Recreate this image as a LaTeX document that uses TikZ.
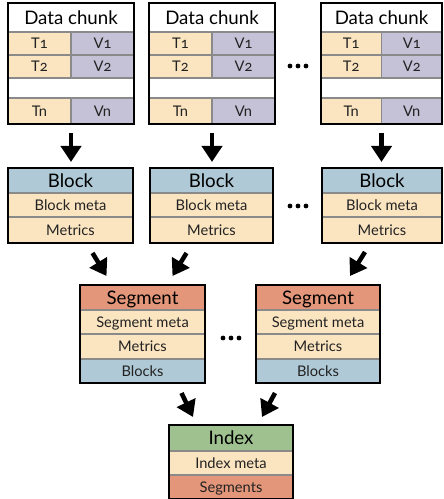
\documentclass[tikz,border=0pt]{standalone}
\usepackage{fontspec}
\setmainfont{Lato}[Numbers=OldStyle]
\usetikzlibrary{arrows.meta,fit,calc}
\definecolor{beige}{HTML}{FBE5C1}
\definecolor{lilac}{HTML}{C5C1D6}
\definecolor{paleblue}{HTML}{AFCAD6}
\definecolor{salmon}{HTML}{E39679}
\definecolor{sage}{HTML}{9EC18F}
\definecolor{sepgray}{HTML}{8A8A8A}
\definecolor{inktext}{HTML}{222222}
\tikzset{
  rowrect/.style={draw=sepgray, line width=0.8pt},
  headtext/.style={font=\fontsize{14}{15}\selectfont, text=black, inner sep=0pt, text height=10pt, text depth=0pt},
  subtext/.style={font=\fontsize{11}{12}\selectfont, text=inktext, inner sep=0pt, text height=7.9pt, text depth=0pt},
  boxframe/.style={draw=black, line width=1.5pt, inner sep=0pt, fill=none},
  bigarrow/.style={line width=3.4pt, -{Triangle[length=12pt,width=15pt]}},
  dot/.style={fill=black, circle, inner sep=0pt, minimum size=3.6pt}
}
% row: x1 y1 x2 y2 colour text style
\newcommand\mkrow[7]{%
  \path[rowrect, fill=#5] (#1,#2) rectangle (#3,#4);
  \node[#7] at ($(#1,#2)!0.5!(#3,#4)$) {#6};}
% data chunk: name x1 x2
\newcommand\mkchunk[3]{%
  \pgfmathsetmacro\xm{(#2+#3)/2}%
  \mkrow{#2}{3}{#3}{32}{white}{Data chunk}{headtext}
  \mkrow{#2}{32}{\xm}{55}{beige}{T1}{subtext}
  \mkrow{\xm}{32}{#3}{55}{lilac}{V1}{subtext}
  \mkrow{#2}{55}{\xm}{78}{beige}{T2}{subtext}
  \mkrow{\xm}{55}{#3}{78}{lilac}{V2}{subtext}
  \mkrow{#2}{78}{#3}{98}{white}{}{subtext}
  \mkrow{#2}{98}{\xm}{124}{beige}{Tn}{subtext}
  \mkrow{\xm}{98}{#3}{124}{lilac}{Vn}{subtext}
  \node[boxframe, fit={(#2,3) (#3,124)}] (#1) {};}
% block: name x1 x2
\newcommand\mkblock[3]{%
  \mkrow{#2}{168}{#3}{193}{paleblue}{Block}{headtext}
  \mkrow{#2}{193}{#3}{217}{beige}{Block meta}{subtext}
  \mkrow{#2}{217}{#3}{243}{beige}{Metrics}{subtext}
  \node[boxframe, fit={(#2,168) (#3,243)}] (#1) {};}
% segment: name x1 x2
\newcommand\mkseg[3]{%
  \mkrow{#2}{285}{#3}{310}{salmon}{Segment}{headtext}
  \mkrow{#2}{310}{#3}{334}{beige}{Segment meta}{subtext}
  \mkrow{#2}{334}{#3}{359}{beige}{Metrics}{subtext}
  \mkrow{#2}{359}{#3}{383}{paleblue}{Blocks}{subtext}
  \node[boxframe, fit={(#2,285) (#3,383)}] (#1) {};}
\begin{document}
\begin{tikzpicture}[x=0.75pt, y=-0.75pt]
\useasboundingbox (0,0) rectangle (443,499);
% data chunks
\mkchunk{dc1}{8}{134}
\mkchunk{dc2}{149}{275}
\mkchunk{dc3}{321}{442}
\node[dot] at (290,66) {}; \node[dot] at (298,66) {}; \node[dot] at (306,66) {};
% blocks
\mkblock{b1}{8}{133}
\mkblock{b2}{150}{273}
\mkblock{b3}{322}{442}
\node[dot] at (290,206) {}; \node[dot] at (298,206) {}; \node[dot] at (306,206) {};
% segments
\mkseg{s1}{80}{205}
\mkseg{s2}{256}{380}
\node[dot] at (223,338) {}; \node[dot] at (231,338) {}; \node[dot] at (239,338) {};
% index
\mkrow{169}{425}{293}{451}{sage}{Index}{headtext}
\mkrow{169}{451}{293}{475}{beige}{Index meta}{subtext}
\mkrow{169}{475}{293}{499}{salmon}{Segments}{subtext}
\node[boxframe, fit={(169,425) (293,499)}] (ix) {};
% arrows data chunk -> block
\draw[bigarrow, shorten <=8*0.75pt, shorten >=5*0.75pt] (dc1.south) -- (dc1.south |- b1.north);
\draw[bigarrow, shorten <=8*0.75pt, shorten >=5*0.75pt] (dc2.south) -- (dc2.south |- b2.north);
\draw[bigarrow, shorten <=8*0.75pt, shorten >=5*0.75pt] (dc3.south) -- (dc3.south |- b3.north);
% arrows block -> segment
\draw[bigarrow] ($(b1.south)+(22,9)$) -- ($(s1.north)+(-36,-8)$);
\draw[bigarrow] ($(b2.south)+(-25,9)$) -- ($(s1.north)+(30,-8)$);
\draw[bigarrow] ($(b3.south)+(-17,8)$) -- ($(s2.north)+(32,-8)$);
% arrows segment -> index
\draw[bigarrow] ($(s1.south)+(39,9)$) -- ($(ix.north)+(-38,-7)$);
\draw[bigarrow] ($(s2.south)+(-43,9)$) -- ($(ix.north)+(31,-7)$);
\end{tikzpicture}
\end{document}
